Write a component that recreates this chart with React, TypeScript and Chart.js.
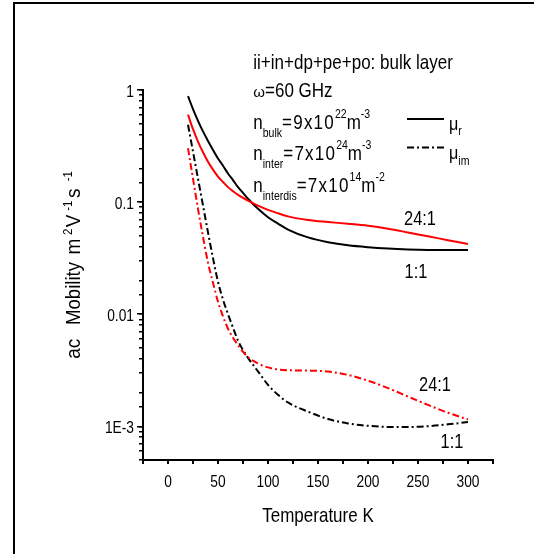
import React, { useEffect, useRef } from "react";
import { Chart, registerables } from "chart.js";

Chart.register(...registerables);

// ---- data ----
const temperatureK = [20, 25, 30, 35, 40, 45, 50, 55, 60, 65, 70, 75, 80, 90, 100, 110, 120, 140, 160, 180, 200, 220, 240, 260, 280, 300];
const muReal_1to1 = [0.881, 0.676, 0.531, 0.427, 0.351, 0.292, 0.245, 0.211, 0.180, 0.157, 0.136, 0.121, 0.107, 0.0871, 0.0733, 0.0643, 0.0569, 0.0484, 0.0439, 0.0412, 0.0396, 0.0385, 0.0378, 0.0374, 0.0373, 0.0374];
const muReal_24to1 = [0.603, 0.447, 0.347, 0.278, 0.229, 0.195, 0.169, 0.151, 0.136, 0.125, 0.116, 0.109, 0.103, 0.0929, 0.0851, 0.0794, 0.0746, 0.0692, 0.0664, 0.0641, 0.0615, 0.0579, 0.0536, 0.0495, 0.0457, 0.0422];
const muIm_1to1 = [0.490, 0.282, 0.162, 0.0933, 0.0537, 0.0316, 0.0195, 0.0135, 0.0100, 0.00759, 0.00582, 0.00479, 0.00407, 0.00309, 0.00234, 0.00191, 0.00163, 0.00135, 0.00116, 0.00106, 0.00101, 0.000986, 0.000984, 0.00100, 0.00104, 0.00109];
const muIm_24to1 = [0.302, 0.162, 0.0871, 0.049, 0.0288, 0.0191, 0.0129, 0.00955, 0.00741, 0.00617, 0.00531, 0.00462, 0.00412, 0.00363, 0.00335, 0.00321, 0.00316, 0.00314, 0.00308, 0.00287, 0.00255, 0.00219, 0.00184, 0.00155, 0.00132, 0.00115];

const xTickValues = [0, 50, 100, 150, 200, 250, 300];
const yTickValues = [1, 0.1, 0.01, 0.001];
const yTickLabels = ["1", "0.1", "0.01", "1E-3"];

const curveLabels = ["24:1", "1:1", "24:1", "1:1"];
const curveLabelT = [252, 248, 267, 284];
const curveLabelMu = [0.073, 0.0246, 0.00239, 0.00074];

const FONT = '"Liberation Sans", Arial, sans-serif';

type Run = { t: string; size: number; dy?: number; ls?: number; sx?: number; at?: number };

function txt(ctx: CanvasRenderingContext2D, s: string, x: number, y: number, size: number, align: string = "left", sx: number = 0.81, ls: number = 0): number {
  ctx.save();
  ctx.font = `${size}px ${FONT}`;
  (ctx as any).letterSpacing = `${ls}px`;
  ctx.textBaseline = "alphabetic";
  ctx.textAlign = "left";
  ctx.fillStyle = "#000";
  const w = ctx.measureText(s).width * sx;
  let left = x;
  if (align === "center") left = x - w / 2;
  else if (align === "right") left = x - w;
  ctx.translate(left, y);
  ctx.scale(sx, 1);
  ctx.fillText(s, 0, 0);
  ctx.restore();
  return w;
}

function runs(ctx: CanvasRenderingContext2D, list: Run[], x: number, y: number) {
  let cx = x;
  for (const r of list) {
    const px = r.at !== undefined ? x + r.at : cx;
    const w = txt(ctx, r.t, px, y + (r.dy || 0), r.size, "left", r.sx ?? 0.81, r.ls || 0);
    cx = px + w;
  }
}

const isDecade = (v: number) => Math.abs(Math.log10(v) - Math.round(Math.log10(v))) < 1e-6;

const decorPlugin = {
  id: "decor",
  beforeDraw(chart: any) {
    const ctx = chart.ctx as CanvasRenderingContext2D;
    ctx.save();
    ctx.fillStyle = "#fff";
    ctx.fillRect(0, 0, chart.width, chart.height);
    ctx.restore();
  },
  afterDraw(chart: any) {
    const ctx = chart.ctx as CanvasRenderingContext2D;
    const xs = chart.scales.x;
    const ys = chart.scales.y;
    ctx.save();
    // outer frame
    ctx.fillStyle = "#000";
    ctx.fillRect(13, 2, 2, chart.height);
    ctx.fillRect(13, 2, chart.width, 2);

    // tick labels
    for (const v of xTickValues) {
      txt(ctx, String(v), xs.getPixelForValue(v), 487.3, 17, "center");
    }
    yTickValues.forEach((v, i) => {
      txt(ctx, yTickLabels[i], 134, ys.getPixelForValue(v) + 6.5, 17, "right");
    });

    // axis titles
    txt(ctx, "Temperature K", (chart.chartArea.left + chart.chartArea.right) / 2, 521.7, 21, "center");
    ctx.save();
    ctx.translate(80, 358.7);
    ctx.rotate(-Math.PI / 2);
    runs(ctx, [
      { t: "ac", size: 20, sx: 0.95, at: 0 },
      { t: "Mobility", size: 20, sx: 0.93, at: 33.7 },
      { t: "m", size: 20, sx: 0.95, at: 104.3 },
      { t: "2", size: 12, sx: 0.95, dy: -8, at: 123.7 },
      { t: "V", size: 20, sx: 0.95, at: 131.5 },
      { t: "-1", size: 12, sx: 0.95, dy: -8, at: 148 },
      { t: "s", size: 20, sx: 0.95, at: 160.7 },
      { t: "-1", size: 12, sx: 0.95, dy: -8, at: 177.5 },
    ], 0, 0);
    ctx.restore();

    // annotation block
    const ax = 253.3;
    txt(ctx, "ii+in+dp+pe+po: bulk layer", ax, 69.3, 21);
    runs(ctx, [
      { t: "\u03c9", size: 15, sx: 1 },
      { t: "=60 GHz", size: 21 },
    ], ax, 96.7);
    runs(ctx, [
      { t: "n", size: 21 },
      { t: "bulk", size: 13, dy: 8 },
      { t: "=9x10", size: 21, ls: 1.5 },
      { t: "22", size: 13, dy: -11 },
      { t: "m", size: 21 },
      { t: "-3", size: 13, dy: -11 },
    ], ax, 129.3);
    runs(ctx, [
      { t: "n", size: 21 },
      { t: "inter", size: 13, dy: 8 },
      { t: "=7x10", size: 21, ls: 1.5 },
      { t: "24", size: 13, dy: -11 },
      { t: "m", size: 21 },
      { t: "-3", size: 13, dy: -11 },
    ], ax, 160);
    runs(ctx, [
      { t: "n", size: 21 },
      { t: "interdis", size: 13, dy: 8 },
      { t: "=7x10", size: 21, ls: 1.5 },
      { t: "14", size: 13, dy: -11 },
      { t: "m", size: 21 },
      { t: "-2", size: 13, dy: -11 },
    ], ax, 192);

    // legend
    ctx.strokeStyle = "#000";
    ctx.lineWidth = 2;
    ctx.setLineDash([]);
    ctx.beginPath();
    ctx.moveTo(407, 119);
    ctx.lineTo(444, 119);
    ctx.stroke();
    ctx.setLineDash([7, 3, 2, 3]);
    ctx.beginPath();
    ctx.moveTo(407, 147.5);
    ctx.lineTo(444, 147.5);
    ctx.stroke();
    ctx.setLineDash([]);
    runs(ctx, [
      { t: "\u03bc", size: 19, sx: 0.85 },
      { t: "r", size: 13, dy: 5 },
    ], 449, 130);
    runs(ctx, [
      { t: "\u03bc", size: 19, sx: 0.85 },
      { t: "im", size: 13, dy: 6 },
    ], 449, 158.5);

    // curve labels
    curveLabels.forEach((s, i) => {
      txt(ctx, s, xs.getPixelForValue(curveLabelT[i]), ys.getPixelForValue(curveLabelMu[i]) + 7.5, 21, "center", 0.78);
    });
    ctx.restore();
  },
};

const pts = (arr: number[]) => temperatureK.map((t, i) => ({ x: t, y: arr[i] }));

export default function App() {
  const ref = useRef<HTMLCanvasElement>(null);
  useEffect(() => {
    if (!ref.current) return;
    const dashDot = [7, 3, 2, 3];
    const line = (label: string, data: number[], color: string, dash: number[]) => ({
      label,
      data: pts(data),
      borderColor: color,
      backgroundColor: color,
      borderWidth: 2,
      borderDash: dash,
      pointRadius: 0,
      fill: false,
      cubicInterpolationMode: "monotone" as const,
    });
    const chart = new Chart(ref.current, {
      type: "line",
      data: {
        datasets: [
          line("\u03bcr 24:1", muReal_24to1, "#ff0000", []),
          line("\u03bcim 24:1", muIm_24to1, "#ff0000", dashDot),
          line("\u03bcr 1:1", muReal_1to1, "#000000", []),
          line("\u03bcim 1:1", muIm_1to1, "#000000", dashDot),
        ],
      },
      options: {
        animation: false,
        responsive: false,
        maintainAspectRatio: false,
        devicePixelRatio: 1,
        layout: { padding: { left: 143, right: 41, top: 90, bottom: 94 } },
        plugins: { legend: { display: false }, tooltip: { enabled: false }, title: { display: false } },
        scales: {
          x: {
            type: "linear",
            position: "bottom",
            min: -25,
            max: 325,
            afterFit: (s: any) => { s.height = 0; },
            ticks: { display: false, stepSize: 50, autoSkip: false },
            grid: {
              display: true,
              drawOnChartArea: false,
              drawTicks: true,
              tickLength: 7,
              lineWidth: 2,
              color: (c: any) => (c.tick && Math.abs(c.tick.value % 50) < 1e-9 ? "#000" : "rgba(0,0,0,0)"),
            },
            border: { display: true, color: "#000", width: 2 },
          },
          xMinor: {
            type: "linear",
            position: "bottom",
            min: -25,
            max: 325,
            afterFit: (s: any) => { s.height = 0; },
            ticks: { display: false, stepSize: 25, autoSkip: false },
            grid: { display: true, drawOnChartArea: false, drawTicks: true, tickLength: 4, lineWidth: 2, color: "#000" },
            border: { display: false },
          },
          y: {
            type: "logarithmic",
            position: "left",
            min: 5e-4,
            max: 1,
            afterFit: (s: any) => { s.width = 0; },
            ticks: { display: false, autoSkip: false },
            grid: { display: true, drawOnChartArea: false, drawTicks: true, tickLength: 4, lineWidth: 1.5, color: "#000" },
            border: { display: true, color: "#000", width: 2 },
          },
          yMajor: {
            type: "logarithmic",
            position: "left",
            min: 5e-4,
            max: 1,
            afterFit: (s: any) => { s.width = 0; },
            ticks: { display: false, autoSkip: false },
            grid: {
              display: true,
              drawOnChartArea: false,
              drawTicks: true,
              tickLength: 6,
              lineWidth: 1.5,
              color: (c: any) => (c.tick && isDecade(c.tick.value) ? "#000" : "rgba(0,0,0,0)"),
            },
            border: { display: false },
          },
        } as any,
      },
      plugins: [decorPlugin],
    });
    return () => chart.destroy();
  }, []);
  return (
    <div style={{ position: "absolute", left: 0, top: 0, width: 534, height: 554, background: "#fff" }}>
      <canvas ref={ref} width={534} height={554} style={{ display: "block", width: 534, height: 554 }} />
    </div>
  );
}
